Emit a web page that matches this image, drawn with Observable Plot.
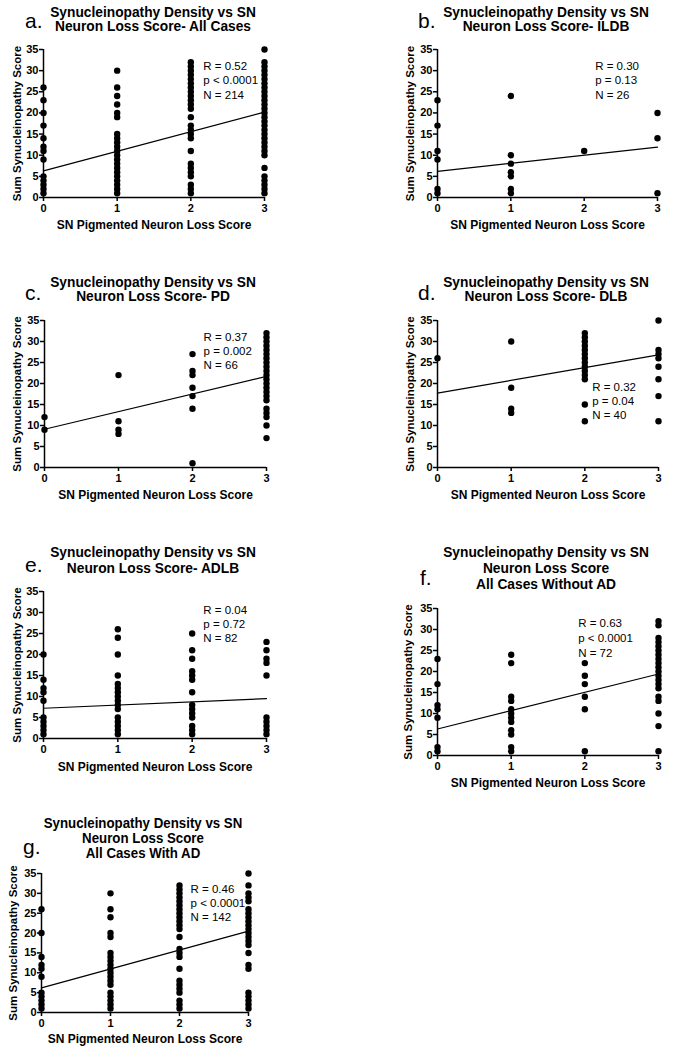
<!DOCTYPE html>
<html><head><meta charset="utf-8">
<script src="https://cdn.jsdelivr.net/npm/d3@7"></script>
<script src="https://cdn.jsdelivr.net/npm/@observablehq/plot@0.6"></script>
<style>
body{margin:0;background:#fff;}
#page{position:relative;width:682px;height:1050px;overflow:hidden;background:#fff;}
.panel{position:absolute;}
.panel svg{max-width:none;}
#overlay{position:absolute;left:0;top:0;pointer-events:none;}
</style></head><body><div id="page"></div>
<script>
const FONT = "'Liberation Sans', Arial, Helvetica, sans-serif";

// ---------- DATA ----------
const xTicks = [0, 1, 2, 3];
const yTicks = [0, 5, 10, 15, 20, 25, 30, 35];
const xLabel = "SN Pigmented Neuron Loss Score";
const yLabel = "Sum Synucleinopathy Score";
const titleLine1 = "Synucleinopathy Density vs SN";

// scores by neuron-loss score 0,1,2,3
const allCases = [
  [26,23,20,17,14,12,11,9,5,4,3,2,1],
  [30,26,24,22,20,19,15,14,13,12,11,10,9,8,7,6,5,4,3,2,1],
  [32,31,30,29,28,27,26,25,24,23,22,21,19,17,16,15,14,11,8,7,6,5,3,2,1],
  [35,32,31,30,29,28,27,26,25,24,23,22,21,20,19,18,17,16,15,14,13,12,11,10,7,5,4,3,2,1]
];
const ildb = [
  [23,17,11,9,2,1],
  [24,10,8,6,5,2,1],
  [11],
  [20,14,1]
];
const pd = [
  [12,9],
  [22,11,9,8],
  [27,23,22,19,17,14,1],
  [32,31,30,29,28,27,26,25,24,23,22,21,20,19,18,17,16,14,13,12,10,7]
];
const dlb = [
  [26],
  [30,19,14,13],
  [32,31,30,29,28,27,26,25,24,23,22,21,15,11],
  [35,28,27,26,24,21,17,11]
];
const adlb = [
  [20,14,12,11,9,5,4,3,2,1],
  [26,24,20,15,13,12,11,10,9,8,7,5,4,3,2,1],
  [25,21,19,16,15,14,11,8,7,6,5,3,2,1],
  [23,21,19,18,15,5,4,3,2,1]
];
const withoutAD = [
  [23,17,12,11,9,2,1],
  [24,22,14,13,11,10,9,8,6,5,2,1],
  [22,19,17,14,11,1],
  [32,31,28,27,26,25,24,23,22,21,20,19,18,17,16,14,13,10,7,1]
];
const withAD = [
  [26,20,14,12,11,9,5,4,3,2,1],
  [30,26,24,20,19,15,14,13,12,11,10,9,8,7,5,4,3,2,1],
  [32,31,30,29,28,27,26,25,24,23,22,21,19,16,15,14,11,8,7,6,5,3,2,1],
  [35,32,30,29,28,26,25,24,23,22,21,20,19,18,17,15,12,11,5,4,3,2,1]
];

// regression line values at score 0 and score 3
const fitAll = [6.3, 20.2];
const fitIldb = [6.2, 11.9];
const fitPd = [9.1, 21.7];
const fitDlb = [17.7, 26.8];
const fitAdlb = [7.2, 9.5];
const fitWithoutAD = [6.3, 19.4];
const fitWithAD = [6.2, 20.5];

const statsAll = ["R = 0.52", "p < 0.0001", "N = 214"];
const statsIldb = ["R = 0.30", "p = 0.13", "N = 26"];
const statsPd = ["R = 0.37", "p = 0.002", "N = 66"];
const statsDlb = ["R = 0.32", "p = 0.04", "N = 40"];
const statsAdlb = ["R = 0.04", "p = 0.72", "N = 82"];
const statsWithoutAD = ["R = 0.63", "p < 0.0001", "N = 72"];
const statsWithAD = ["R = 0.46", "p < 0.0001", "N = 142"];

const letters = ["a.", "b.", "c.", "d.", "e.", "f.", "g."];
const titles = [
  [titleLine1, "Neuron Loss Score- All Cases"],
  [titleLine1, "Neuron Loss Score- ILDB"],
  [titleLine1, "Neuron Loss Score- PD"],
  [titleLine1, "Neuron Loss Score- DLB"],
  [titleLine1, "Neuron Loss Score- ADLB"],
  [titleLine1, "Neuron Loss Score", "All Cases Without AD"],
  [titleLine1, "Neuron Loss Score", "All Cases With AD"]
];

// ---------- LAYOUT ----------
const layout = [
  {fl:43, ft:49, w:221, h:148, sx:2.17, sy:32.4, lh:1.22, xl:28, yl:26, tc:153, tb:17, tlh:14.5, tfs:14.5, lx:25, ly:28},
  {fl:437, ft:49, w:220, h:148, sx:2.15, sy:32.4, lh:1.22, xl:28, yl:27, tc:546, tb:17, tlh:14.5, tfs:14.5, lx:418, ly:28},
  {fl:44, ft:320, w:222, h:147, sx:2.15, sy:32.4, lh:1.22, xl:28, yl:27, tc:153, tb:287, tlh:14.5, tfs:14.5, lx:25, ly:300},
  {fl:437, ft:320, w:221, h:147, sx:2.10, sy:20.5, lh:1.22, xl:28, yl:27, tc:546, tb:287, tlh:14.5, tfs:14.5, lx:418, ly:300},
  {fl:43, ft:591, w:223, h:147, sx:2.15, sy:32.1, lh:1.22, xl:29, yl:26, tc:153, tb:557, tlh:16.5, tfs:14.5, lx:25, ly:572},
  {fl:437, ft:608, w:221, h:147, sx:1.91, sy:33.1, lh:1.3, xl:28, yl:29, tc:546, tb:557, tlh:16, tfs:14.5, lx:420, ly:585},
  {fl:41, ft:873, w:207, h:139, sx:2.16, sy:32.5, lh:1.22, xl:27, yl:28, tc:143, tb:828, tlh:15, tfs:14, lx:23, ly:854}
];

const groups = [allCases, ildb, pd, dlb, adlb, withoutAD, withAD];
const fits = [fitAll, fitIldb, fitPd, fitDlb, fitAdlb, fitWithoutAD, fitWithAD];
const stats = [statsAll, statsIldb, statsPd, statsDlb, statsAdlb, statsWithoutAD, statsWithAD];

const page = document.getElementById("page");
const ML = 48, MR = 16, MT = 8, MB = 42;

groups.forEach((cols, i) => {
  const L = layout[i];
  const pts = cols.flatMap((ys, x) => ys.map(y => ({x, y})));
  const fitPts = [{x: xTicks[0], y: fits[i][0]}, {x: xTicks[3], y: fits[i][1]}];
  const plot = Plot.plot({
    width: L.w + ML + MR,
    height: L.h + MT + MB,
    marginLeft: ML, marginRight: MR, marginTop: MT, marginBottom: MB,
    style: {fontFamily: FONT, fontSize: "11px", fontWeight: "bold", color: "#000", background: "transparent", overflow: "visible"},
    x: {domain: [0, 3]},
    y: {domain: [0, 35]},
    marks: [
      Plot.axisX({ticks: xTicks, tickFormat: d => String(d), tickSize: 4, tickPadding: 3, strokeWidth: 1.5, label: null}),
      Plot.axisY({ticks: yTicks, tickSize: 4, tickPadding: 1, strokeWidth: 1.5, label: null}),
      Plot.ruleX([0], {strokeWidth: 1.5}),
      Plot.ruleY([0], {strokeWidth: 1.5}),
      Plot.line(fitPts, {x: "x", y: "y", stroke: "#000", strokeWidth: 1.2}),
      Plot.dot(pts, {x: "x", y: "y", r: 3.2, fill: "#000"}),
      Plot.text([{x: L.sx, y: L.sy, t: stats[i].join("\n")}], {x: "x", y: "y", text: "t", textAnchor: "start", lineAnchor: "top", fontSize: 11.5, fontWeight: "normal", lineHeight: L.lh, fill: "#000"}),
      Plot.text([xLabel], {frameAnchor: "bottom", dy: L.xl, fontSize: 12, lineAnchor: "middle", textAnchor: "middle", fill: "#000"}),
      Plot.text([yLabel], {frameAnchor: "left", dx: -L.yl, rotate: -90, fontSize: 11.5, lineAnchor: "middle", textAnchor: "middle", fill: "#000"})
    ]
  });
  const div = document.createElement("div");
  div.className = "panel";
  div.style.left = (L.fl - ML) + "px";
  div.style.top = (L.ft - MT) + "px";
  div.style.width = (L.w + ML + MR) + "px";
  div.appendChild(plot);
  page.appendChild(div);
});

// titles and panel letters
const overlay = d3.select(page).append("svg").attr("id", "overlay").attr("width", 682).attr("height", 1050)
  .style("font-family", FONT);
layout.forEach((L, i) => {
  const t = overlay.append("text").attr("text-anchor", "middle").attr("font-weight", "bold")
    .attr("font-size", L.tfs).attr("fill", "#000")
    .attr("transform", `translate(${L.tc},${L.tb}) scale(0.95,1)`);
  titles[i].forEach((line, k) => t.append("tspan").attr("x", 0).attr("y", k * L.tlh).text(line));
  overlay.append("text").attr("x", L.lx).attr("y", L.ly).attr("font-size", 21).attr("fill", "#000").text(letters[i]);
});
</script>
</body></html>
